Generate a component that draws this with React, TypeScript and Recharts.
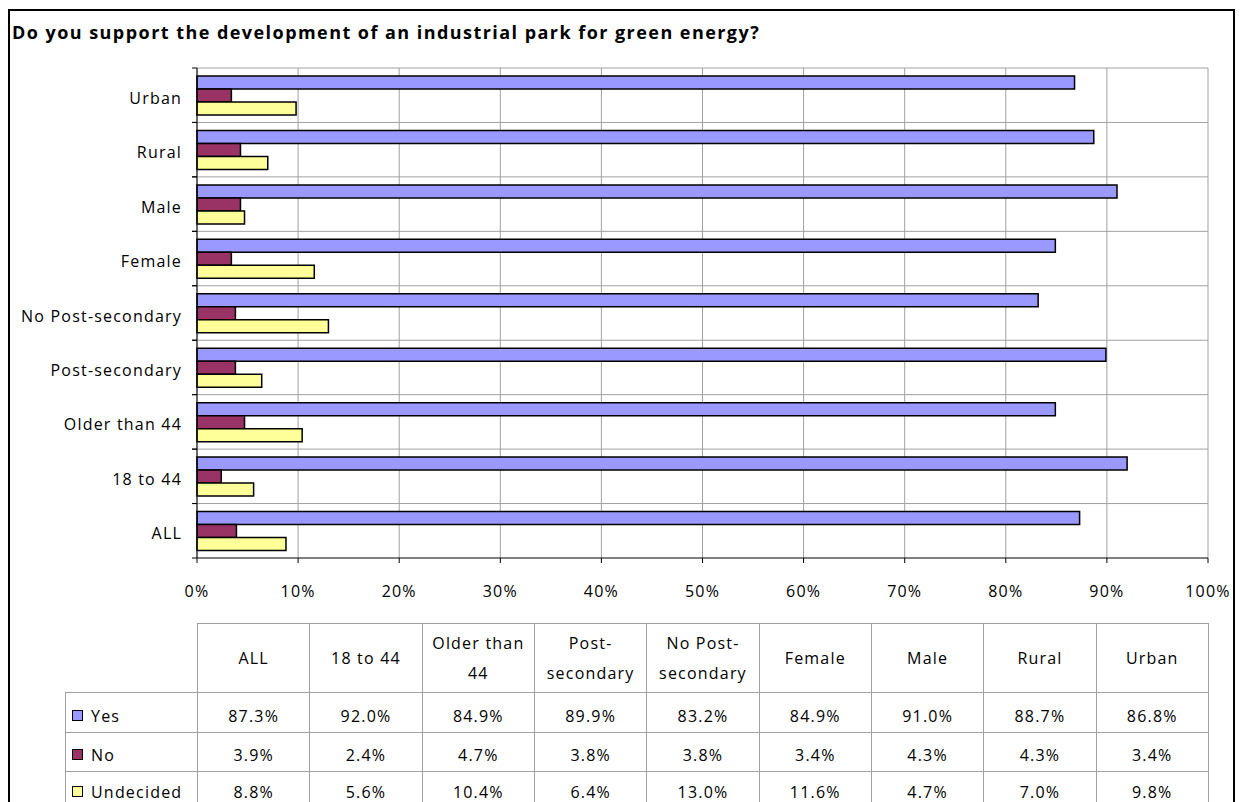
import React from 'react';
import { BarChart, Bar, XAxis, YAxis, CartesianGrid } from 'recharts';

const title = 'Do you support the development of an industrial park for green energy?';
const categories = ['ALL', '18 to 44', 'Older than 44', 'Post-secondary', 'No Post-secondary', 'Female', 'Male', 'Rural', 'Urban'];
const headerLabels = [['ALL'], ['18 to 44'], ['Older than', '44'], ['Post-', 'secondary'], ['No Post-', 'secondary'], ['Female'], ['Male'], ['Rural'], ['Urban']];
const yesValues = [87.3, 92.0, 84.9, 89.9, 83.2, 84.9, 91.0, 88.7, 86.8];
const noValues = [3.9, 2.4, 4.7, 3.8, 3.8, 3.4, 4.3, 4.3, 3.4];
const undecidedValues = [8.8, 5.6, 10.4, 6.4, 13.0, 11.6, 4.7, 7.0, 9.8];
const xTicks = [0, 10, 20, 30, 40, 50, 60, 70, 80, 90, 100];

const series = [
  { key: 'yes', name: 'Yes', color: '#9999FF', values: yesValues },
  { key: 'no', name: 'No', color: '#993366', values: noValues },
  { key: 'undecided', name: 'Undecided', color: '#FFFF99', values: undecidedValues },
];

const data = categories.map((c, i) => ({
  category: c,
  yes: yesValues[i],
  no: noValues[i],
  undecided: undecidedValues[i],
}));

const FONT = '"Open Sans", "DejaVu Sans", sans-serif';
const CHART_W = 1227;
const CHART_H = 620;
const MARGIN = { top: 60, right: 27, bottom: 40, left: 9 };
const Y_AXIS_W = 180;
const X_AXIS_H = 30;
const PLOT_H = CHART_H - MARGIN.top - MARGIN.bottom - X_AXIS_H;
const PLOT_W = CHART_W - MARGIN.left - MARGIN.right - Y_AXIS_W;
const BAND = PLOT_H / categories.length;
const GRID = '#a0a0a0';
const LABEL_SPACING = '1.2px';
const FS = 16;
const ROW_HEIGHTS = [40, 39, 39];
const ROW_PAD = [7, 5, 2];

function YTick(props: any) {
  const { x, y, payload } = props;
  const axisX = x + 15;
  return (
    <g>
      <line x1={axisX - 5} x2={axisX} y1={y - BAND / 2} y2={y - BAND / 2} stroke="#000" strokeWidth={1} />
      <line x1={axisX - 5} x2={axisX} y1={y + BAND / 2} y2={y + BAND / 2} stroke="#000" strokeWidth={1} />
      <text x={x} y={y + 3} dy="0.35em" textAnchor="end" fill="#000" fontSize={FS} fontFamily={FONT} style={{ letterSpacing: LABEL_SPACING }}>
        {payload.value}
      </text>
    </g>
  );
}

function XTick(props: any) {
  const { x, y, payload } = props;
  return (
    <text x={x} y={y} dy="0.71em" textAnchor="middle" fill="#000" fontSize={FS} fontFamily={FONT} style={{ letterSpacing: LABEL_SPACING }}>
      {payload.value + '%'}
    </text>
  );
}

const TABLE_LEFT = 57;
const TABLE_TOP = 615;
const LEGEND_COL_W = MARGIN.left + Y_AXIS_W - TABLE_LEFT;
const COL_W = PLOT_W / categories.length;
const cellBorder = `1px solid ${GRID}`;

export default function App() {
  return (
    <div style={{ position: 'relative', width: 1227, height: 794, fontFamily: FONT }}>
      <style>{'body{overflow:hidden}'}</style>
      <div style={{ position: 'absolute', left: 0, top: 1, width: 1227, height: 820, border: '2px solid #000', boxSizing: 'border-box' }} />
      <div style={{ position: 'absolute', left: 4, top: 12, fontSize: 18, fontWeight: 700, color: '#000', letterSpacing: '1.45px', whiteSpace: 'nowrap' }}>
        {title}
      </div>
      <div style={{ position: 'absolute', left: 0, top: 0 }}>
        <BarChart
          width={CHART_W}
          height={CHART_H}
          data={data}
          layout="vertical"
          margin={MARGIN}
          barGap={0}
          barCategoryGap={8}
        >
          <CartesianGrid
            stroke={GRID}
            strokeWidth={1}
            horizontalCoordinatesGenerator={({ offset }: any) =>
              categories.map((_, i) => offset.top + (i * offset.height) / categories.length)
            }
          />
          <XAxis
            type="number"
            domain={[0, 100]}
            ticks={xTicks}
            interval={0}
            height={X_AXIS_H}
            tickSize={5}
            tickMargin={23}
            axisLine={{ stroke: '#000' }}
            tickLine={{ stroke: '#000' }}
            tick={<XTick />}
          />
          <YAxis
            type="category"
            dataKey="category"
            reversed
            width={Y_AXIS_W}
            tickSize={5}
            tickMargin={10}
            interval={0}
            axisLine={{ stroke: '#000' }}
            tickLine={false}
            tick={<YTick />}
          />
          {series.map((s) => (
            <Bar
              key={s.key}
              dataKey={s.key}
              name={s.name}
              fill={s.color}
              stroke="#000"
              strokeWidth={1.5}
              barSize={13}
              isAnimationActive={false}
            />
          ))}
        </BarChart>
      </div>
      <table
        style={{
          position: 'absolute',
          left: TABLE_LEFT,
          top: TABLE_TOP,
          borderCollapse: 'collapse',
          tableLayout: 'fixed',
          width: LEGEND_COL_W + PLOT_W,
          fontSize: FS,
          letterSpacing: LABEL_SPACING,
          color: '#000',
        }}
      >
        <colgroup>
          <col style={{ width: LEGEND_COL_W }} />
          {categories.map((c) => (
            <col key={c} style={{ width: COL_W }} />
          ))}
        </colgroup>
        <tbody>
          <tr style={{ height: 69 }}>
            <td style={{ border: 'none', padding: 0 }} />
            {headerLabels.map((lines, i) => (
              <td key={i} style={{ border: cellBorder, textAlign: 'center', verticalAlign: 'middle', padding: 0, lineHeight: '30px' }}>
                {lines.map((l, j) => (
                  <div key={j}>{l}</div>
                ))}
              </td>
            ))}
          </tr>
          {series.map((s, si) => (
            <tr key={s.key} style={{ height: ROW_HEIGHTS[si] }}>
              <td style={{ border: cellBorder, padding: `${ROW_PAD[si]}px 0 0 6px`, whiteSpace: 'nowrap', verticalAlign: 'middle', lineHeight: '20px' }}>
                <span style={{ display: 'inline-block', width: 9, height: 9, background: s.color, border: '1px solid #000', marginRight: 8, verticalAlign: 'middle', position: 'relative', top: -2 }} />
                {s.name}
              </td>
              {s.values.map((v, i) => (
                <td key={i} style={{ border: cellBorder, textAlign: 'center', verticalAlign: 'middle', padding: `${ROW_PAD[si]}px 0 0 0`, lineHeight: '20px' }}>
                  {v.toFixed(1) + '%'}
                </td>
              ))}
            </tr>
          ))}
        </tbody>
      </table>
    </div>
  );
}
